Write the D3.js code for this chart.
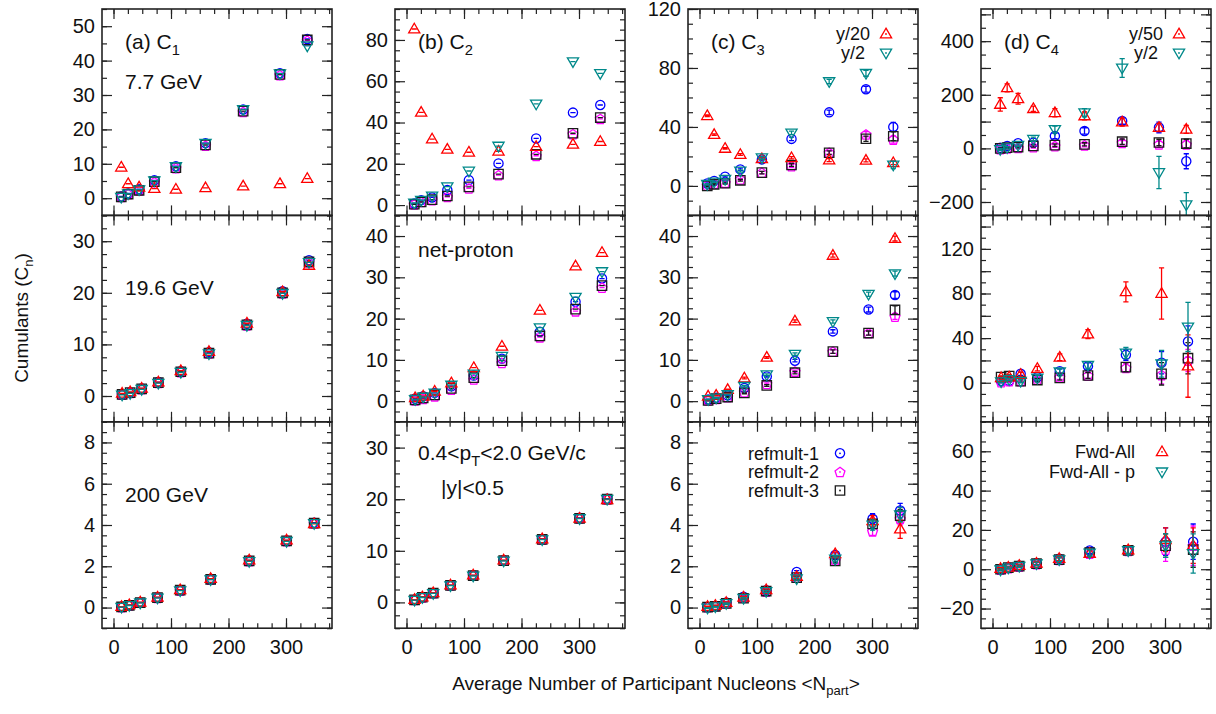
<!DOCTYPE html>
<html>
<head>
<meta charset="utf-8">
<script src="https://cdn.jsdelivr.net/npm/d3@7"></script>
<style>
  body { margin: 0; background: #fff; }
  svg { display: block; font-family: "Liberation Sans", Arial, Helvetica, sans-serif; }
</style>
</head>
<body>
<svg id="chart" width="1216" height="714"></svg>
<script>
'use strict';

// ---- data ----
const npart77 = [13.5, 25.5, 44.5, 71, 108.5, 160, 225.5, 289.5, 337];
const npart196 = [15, 29, 49, 78, 117, 166, 232, 294, 340];
const npart200 = [14, 27.5, 46.5, 76.5, 116, 169, 236, 301, 349];

const seriesNames = ['refmult-1', 'refmult-2', 'refmult-3', 'Fwd-All', 'Fwd-All - p'];

// each panel: one row per series, in seriesNames order
const c1_77 = [
  [0.5, 1.4, 2.6, 5.2, 9.3, 16.0, 25.8, 36.3, 46.3],
  [0.4, 1.2, 2.3, 4.7, 8.8, 15.3, 25.1, 35.8, 45.8],
  [0.4, 1.2, 2.3, 4.8, 8.9, 15.5, 25.3, 36.0, 46.0],
  [9.0, 4.2, 3.2, 2.8, 2.6, 3.0, 3.5, 4.2, 5.7],
  [0.3, 1.3, 2.5, 5.1, 9.2, 16.0, 25.8, 36.2, 44.3],
];
const c2_77 = [
  [0.8, 2.4, 3.7, 7.3, 12.1, 20.2, 32.3, 44.8, 48.5],
  [0.4, 1.6, 2.4, 4.0, 8.1, 14.5, 23.9, 34.4, 41.8],
  [0.4, 1.5, 2.6, 4.4, 8.8, 15.0, 24.6, 34.8, 42.4],
  [85.3, 44.9, 32.0, 27.0, 25.6, 26.0, 28.3, 29.4, 30.8],
  [1.0, 2.4, 4.4, 8.9, 16.5, 28.6, 49.0, 69.5, 63.8],
];
const c3_77 = [
  [1.6, 3.4, 6.3, 11.2, 18.0, 31.9, 49.9, 65.6, 40.0],
  [0.4, 1.6, 2.2, 4.5, 9.0, 13.5, 22.5, 35.0, 31.5],
  [0.0, 1.1, 1.8, 3.8, 9.0, 14.2, 22.5, 32.0, 33.7],
  [47.6, 34.8, 25.4, 21.3, 18.4, 19.1, 17.5, 17.3, 15.7],
  [1.1, 2.7, 4.5, 10.1, 19.1, 36.0, 70.8, 76.4, 14.2],
];
const c3_77err = [
  [0.5, 0.5, 0.6, 0.8, 1.0, 1.2, 1.5, 2.0, 3.0],
  [0.4, 0.4, 0.5, 0.6, 0.8, 1.0, 1.2, 1.8, 2.5],
  [0.4, 0.4, 0.5, 0.6, 0.8, 1.0, 1.2, 1.8, 3.0],
  [0.5, 0.5, 0.5, 0.6, 0.6, 0.8, 1.0, 1.0, 1.2],
  [0.5, 0.5, 0.6, 0.8, 1.0, 1.2, 1.5, 2.0, 2.5],
];
const c4_77 = [
  [2, 9, 19, 21, 46, 65, 102, 78, -48],
  [-2, 0, 2.5, 5, 9, 12, 21, 15, 15],
  [0, 2.5, 5, 9, 12, 15, 25, 22, 18],
  [164, 226, 185, 148, 133, 121, 98, 78, 71],
  [-4, 2.5, 12, 34, 71, 133, 300, -90, -210],
];
const c4_77err = [
  [3, 4, 5, 6, 10, 12, 12, 20, 28],
  [2, 3, 3, 4, 5, 6, 8, 12, 15],
  [2, 3, 3, 4, 5, 6, 10, 12, 16],
  [25, 15, 20, 10, 15, 15, 15, 15, 15],
  [3, 4, 5, 8, 12, 15, 35, 60, 45],
];

const c1_196 = [
  [0.35, 0.7, 1.45, 2.7, 4.8, 8.5, 14.0, 20.3, 26.3],
  [0.3, 0.6, 1.35, 2.55, 4.65, 8.3, 13.7, 19.9, 25.9],
  [0.3, 0.65, 1.4, 2.6, 4.7, 8.3, 13.8, 20.0, 26.0],
  [0.5, 0.8, 1.5, 2.7, 4.9, 8.6, 14.1, 20.2, 25.3],
  [0.2, 0.5, 1.3, 2.5, 4.6, 8.2, 13.7, 19.9, 25.9],
];
const c2_196 = [
  [0.6, 1.2, 2.0, 3.6, 6.2, 10.3, 16.8, 24.1, 29.7],
  [0.2, 0.6, 1.2, 2.8, 5.3, 9.3, 15.5, 21.8, 27.5],
  [0.3, 0.8, 1.5, 3.1, 5.7, 9.8, 15.8, 22.3, 28.0],
  [0.8, 1.2, 2.4, 4.4, 8.1, 13.3, 22.0, 32.7, 36.0],
  [0.4, 1.0, 2.0, 3.9, 6.6, 10.9, 17.8, 25.2, 31.4],
];
const c3_196 = [
  [0.4, 0.8, 1.4, 3.2, 6.0, 9.8, 16.9, 22.2, 25.7],
  [0.2, 0.6, 1.0, 2.2, 4.2, 7.2, 12.0, 16.5, 20.5],
  [0.2, 0.6, 1.0, 2.0, 3.8, 6.9, 12.0, 16.5, 22.1],
  [1.2, 1.4, 2.8, 5.6, 10.6, 19.4, 35.3, null, 39.4],
  [0.4, 0.8, 1.6, 3.6, 6.4, 11.4, 19.3, 25.9, 30.9],
];
const c3_196err = [
  [0.1, 0.1, 0.1, 0.2, 0.2, 0.3, 0.4, 0.6, 0.8],
  [0.1, 0.1, 0.1, 0.2, 0.2, 0.3, 0.4, 0.5, 0.7],
  [0.1, 0.1, 0.1, 0.2, 0.2, 0.3, 0.4, 0.5, 1.0],
  [0.1, 0.1, 0.1, 0.2, 0.2, 0.3, 0.4, 0.5, 0.6],
  [0.1, 0.1, 0.1, 0.2, 0.2, 0.3, 0.4, 0.5, 0.6],
];
const c4_196 = [
  [1.5, 1.5, 8, 5, 10.4, 14.8, 25, 18, 37],
  [0.6, 1.5, 1.5, 3, 5, 6.5, 13.3, 7, 20],
  [5, 6, 1.5, 2.4, 4.4, 6.5, 14, 8, 22],
  [4.4, 5, 7.4, 12.7, 22.8, 43.6, 81.5, 80, 15],
  [1, 3, 1.5, 4.4, 9.8, 15.7, 26.7, 17, 50],
];
const c4_196err = [
  [1, 1, 1.5, 1.5, 2, 3, 5, 10, 14],
  [1, 1, 1, 1.5, 2, 2.5, 4, 8, 10],
  [1, 1, 1, 1.5, 2, 2.5, 4, 10, 14],
  [1.5, 1.5, 2, 2, 3, 4, 9, 23, 28],
  [1, 1, 1.5, 2, 2.5, 3, 5, 12, 22],
];

const c1_200 = [
  [0.04, 0.12, 0.25, 0.49, 0.85, 1.39, 2.28, 3.25, 4.11],
  [0.03, 0.11, 0.24, 0.47, 0.83, 1.36, 2.25, 3.22, 4.08],
  [0.03, 0.11, 0.24, 0.48, 0.84, 1.37, 2.26, 3.23, 4.09],
  [0.05, 0.13, 0.26, 0.5, 0.86, 1.4, 2.3, 3.27, 4.06],
  [0.02, 0.1, 0.23, 0.47, 0.82, 1.35, 2.24, 3.21, 4.08],
];
const c2_200 = [
  [0.5, 1.0, 1.8, 3.3, 5.25, 8.15, 12.3, 16.4, 20.1],
  [0.5, 1.0, 1.8, 3.3, 5.2, 8.1, 12.2, 16.3, 20.0],
  [0.5, 1.0, 1.8, 3.3, 5.2, 8.1, 12.2, 16.3, 20.0],
  [0.55, 1.05, 1.85, 3.35, 5.3, 8.2, 12.3, 16.3, 19.9],
  [0.45, 0.95, 1.75, 3.25, 5.15, 8.05, 12.15, 16.25, 20.0],
];
const c3_200 = [
  [0.03, 0.08, 0.25, 0.52, 0.84, 1.72, 2.55, 4.3, 4.7],
  [0.02, 0.07, 0.22, 0.48, 0.78, 1.45, 2.3, 3.7, 4.3],
  [0.02, 0.06, 0.2, 0.45, 0.8, 1.45, 2.26, 4.05, 4.45],
  [0.05, 0.1, 0.24, 0.5, 0.86, 1.5, 2.6, 4.2, 3.8],
  [-0.02, 0.04, 0.2, 0.45, 0.78, 1.4, 2.35, 4.0, 4.5],
];
const c3_200err = [
  [0.02, 0.02, 0.03, 0.04, 0.05, 0.07, 0.1, 0.25, 0.35],
  [0.02, 0.02, 0.03, 0.04, 0.05, 0.07, 0.1, 0.2, 0.3],
  [0.02, 0.02, 0.03, 0.04, 0.05, 0.07, 0.1, 0.2, 0.3],
  [0.02, 0.02, 0.03, 0.04, 0.05, 0.07, 0.1, 0.25, 0.45],
  [0.02, 0.02, 0.03, 0.04, 0.05, 0.07, 0.1, 0.25, 0.35],
];
const c4_200 = [
  [0, 0.9, 1.8, 3.0, 5.3, 9.5, 9.7, 14, 14],
  [-0.2, 0.6, 1.4, 2.6, 4.8, 8.0, 9.4, 10, 12],
  [0, 0.8, 1.6, 2.8, 4.9, 8.4, 9.6, 12, 10],
  [0.3, 1.0, 1.9, 3.0, 5.4, 8.0, 9.8, 15, 12],
  [-0.3, 0.7, 1.5, 2.8, 4.9, 8.3, 9.5, 12, 8],
];
const c4_200err = [
  [0.5, 0.5, 0.6, 0.8, 1, 1.5, 2, 7, 9],
  [0.5, 0.5, 0.6, 0.8, 1, 1.5, 2, 6, 10],
  [0.5, 0.5, 0.6, 0.8, 1, 1.5, 2, 6, 9],
  [0.5, 0.5, 0.6, 0.8, 1, 1.5, 2, 6, 9],
  [0.5, 0.5, 0.6, 0.8, 1, 1.5, 2, 6, 10],
];

// ---- layout ----
const colX = [102, 395, 688, 981];
const colW = 230;
const rowY = [9, 215.4, 421.8];
const rowH = 206.4;
const xDomain = [-20, 380];
const xMajor = [0, 100, 200, 300];
const xMinorStep = 25;

const colors = ['#0000ff', '#ff00ff', '#1a1a1a', '#ff0000', '#00898a'];
const shapes = ['circle', 'pentagon', 'square', 'up', 'down'];
const drawOrder = [0, 1, 2, 3, 4];

const panels = [
  { row: 0, col: 0, np: npart77, vals: c1_77, err: null, yDom: [-5, 55], lab: 10, maj: 10, min: 5 },
  { row: 0, col: 1, np: npart77, vals: c2_77, err: null, yDom: [-5, 95], lab: 20, maj: 20, min: 5 },
  { row: 0, col: 2, np: npart77, vals: c3_77, err: c3_77err, yDom: [-20, 120], lab: 40, maj: 40, min: 10 },
  { row: 0, col: 3, np: npart77, vals: c4_77, err: c4_77err, yDom: [-250, 520], lab: 200, maj: 100, min: 50 },
  { row: 1, col: 0, np: npart196, vals: c1_196, err: null, yDom: [-5, 35], lab: 10, maj: 10, min: 2.5 },
  { row: 1, col: 1, np: npart196, vals: c2_196, err: null, yDom: [-5, 45], lab: 10, maj: 10, min: 2.5 },
  { row: 1, col: 2, np: npart196, vals: c3_196, err: c3_196err, yDom: [-5, 45], lab: 10, maj: 10, min: 2.5 },
  { row: 1, col: 3, np: npart196, vals: c4_196, err: c4_196err, yDom: [-35, 150], lab: 40, maj: 20, min: 10 },
  { row: 2, col: 0, np: npart200, vals: c1_200, err: null, yDom: [-1, 9], lab: 2, maj: 2, min: 0.5 },
  { row: 2, col: 1, np: npart200, vals: c2_200, err: null, yDom: [-5, 35], lab: 10, maj: 10, min: 2.5 },
  { row: 2, col: 2, np: npart200, vals: c3_200, err: c3_200err, yDom: [-1, 9], lab: 2, maj: 2, min: 0.5 },
  { row: 2, col: 3, np: npart200, vals: c4_200, err: c4_200err, yDom: [-30, 75], lab: 20, maj: 20, min: 5 },
];

const svg = d3.select('#chart');

const steps = (dom, step) => {
  const out = [];
  for (let k = Math.ceil(dom[0] / step - 1e-9); k <= Math.floor(dom[1] / step + 1e-9); k++) {
    out.push(+(k * step).toFixed(6));
  }
  return out;
};

const pentagon = (r) => {
  const pts = d3.range(5).map((k) => {
    const a = -Math.PI / 2 + (k * 2 * Math.PI) / 5;
    return [r * Math.cos(a), r * Math.sin(a) + 0.6];
  });
  return 'M' + pts.map((p) => p.join(',')).join('L') + 'Z';
};

const shapePath = (shape) => {
  switch (shape) {
    case 'circle':
      return d3.symbol(d3.symbolCircle, Math.PI * 4.6 * 4.6)();
    case 'square':
      return 'M-4.7,-4.7H4.7V4.7H-4.7Z';
    case 'up':
      return 'M0,-5.8L5.6,3.8L-5.6,3.8Z';
    case 'down':
      return 'M0,5.8L5.6,-3.8L-5.6,-3.8Z';
    default:
      return pentagon(5.2);
  }
};

const tickAxis = (g, axisFn, scale, values, size) => {
  g.call(axisFn(scale).tickValues(values).tickSize(-size).tickFormat(''));
  g.select('.domain').remove();
  g.selectAll('.tick line').attr('stroke', '#222').attr('stroke-width', 1.2);
};

const labelStyle = (g) => {
  g.selectAll('.tick text')
    .attr('fill', '#111')
    .attr('font-size', 20);
};

panels.forEach((p, pi) => {
  const x0 = colX[p.col];
  const y0 = rowY[p.row];
  const g = svg.append('g').attr('transform', `translate(${x0},${y0})`);

  const x = d3.scaleLinear().domain(xDomain).range([0, colW]);
  const y = d3.scaleLinear().domain(p.yDom).range([rowH, 0]);

  // ticks, all pointing inward
  const yLab = steps(p.yDom, p.lab);
  const yMaj = steps(p.yDom, p.maj);
  const yMin = steps(p.yDom, p.min);
  const xMin = steps(xDomain, xMinorStep);

  tickAxis(g.append('g'), d3.axisLeft, y, yMin, 5);
  tickAxis(g.append('g'), d3.axisLeft, y, yMaj, 10);
  tickAxis(g.append('g').attr('transform', `translate(${colW},0)`), d3.axisRight, y, yMin, 5);
  tickAxis(g.append('g').attr('transform', `translate(${colW},0)`), d3.axisRight, y, yMaj, 10);
  tickAxis(g.append('g').attr('transform', `translate(0,${rowH})`), d3.axisBottom, x, xMin, 5);
  tickAxis(g.append('g').attr('transform', `translate(0,${rowH})`), d3.axisBottom, x, xMajor, 10);
  tickAxis(g.append('g'), d3.axisTop, x, xMin, 5);
  tickAxis(g.append('g'), d3.axisTop, x, xMajor, 10);

  // y labels
  const yl = g.append('g')
    .call(d3.axisLeft(y).tickValues(yLab).tickSize(0).tickPadding(7).tickFormat(d3.format('d')));
  yl.select('.domain').remove();
  labelStyle(yl);

  if (p.row === 2) {
    const xl = g.append('g')
      .attr('transform', `translate(0,${rowH})`)
      .call(d3.axisBottom(x).tickValues(xMajor).tickSize(0).tickPadding(12).tickFormat(d3.format('d')));
    xl.select('.domain').remove();
    labelStyle(xl);
  }

  // points
  const clipId = 'clip' + pi;
  g.append('clipPath').attr('id', clipId)
    .append('rect').attr('width', colW).attr('height', rowH);
  const pg = g.append('g').attr('clip-path', `url(#${clipId})`);

  drawOrder.forEach((s) => {
    const pts = p.vals[s]
      .map((v, i) => ({ v: v, e: p.err ? p.err[s][i] : 0, n: p.np[i] }))
      .filter((d) => d.v !== null);
    const sg = pg.append('g')
      .attr('fill', 'none')
      .attr('stroke', colors[s])
      .attr('stroke-width', 1.3);
    const pt = sg.selectAll('g.pt').data(pts).join('g').attr('class', 'pt');
    pt.append('path')
      .attr('d', (d) => {
        const cx = x(d.n);
        const yl = y(d.v - d.e);
        const yh = y(d.v + d.e);
        return `M${cx},${yl}V${yh}M${cx - 2.6},${yl}H${cx + 2.6}M${cx - 2.6},${yh}H${cx + 2.6}`;
      });
    pt.append('path')
      .attr('transform', (d) => `translate(${x(d.n)},${y(d.v)})`)
      .attr('d', shapePath(shapes[s]));
  });

  // frame
  g.append('rect')
    .attr('width', colW).attr('height', rowH)
    .attr('fill', 'none').attr('stroke', '#222').attr('stroke-width', 1.6);
});

// ---- text inside panels ----
const addSubText = (xp, yp, main, sub, size, after) => {
  const t = svg.append('text')
    .attr('x', xp).attr('y', yp)
    .attr('font-size', size).attr('fill', '#111');
  t.append('tspan').text(main);
  t.append('tspan').attr('font-size', size * 0.7).attr('dy', size * 0.28).text(sub);
  if (after) t.append('tspan').attr('dy', -size * 0.28).text(after);
  return t;
};

const panelTitles = ['(a) C', '(b) C', '(c) C', '(d) C'];
panelTitles.forEach((s, c) => addSubText(colX[c] + 23, rowY[0] + 40, s, String(c + 1), 21));

const energies = ['7.7 GeV', '19.6 GeV', '200 GeV'];
energies.forEach((s, r) => {
  svg.append('text')
    .attr('x', colX[0] + 23).attr('y', rowY[r] + 80)
    .attr('font-size', 21).attr('fill', '#111').text(s);
});

svg.append('text')
  .attr('x', colX[1] + 23).attr('y', rowY[1] + 42)
  .attr('font-size', 21).attr('fill', '#111').text('net-proton');
addSubText(colX[1] + 23, rowY[2] + 38, '0.4<p', 'T', 21, '<2.0 GeV/c');
svg.append('text')
  .attr('x', colX[1] + 46).attr('y', rowY[2] + 73)
  .attr('font-size', 21).attr('fill', '#111').text('|y|<0.5');

// ---- keys ----
const keyMarker = (xp, yp, s) => {
  svg.append('path')
    .attr('transform', `translate(${xp},${yp})`)
    .attr('d', shapePath(shapes[s]))
    .attr('fill', 'none').attr('stroke', colors[s]).attr('stroke-width', 1.3);
  svg.append('circle')
    .attr('cx', xp).attr('cy', yp).attr('r', 0.9).attr('fill', colors[s]);
};

const keyText = (xp, yp, s, anchor) => {
  svg.append('text')
    .attr('x', xp).attr('y', yp).attr('dy', '0.35em')
    .attr('text-anchor', anchor)
    .attr('font-size', 18).attr('fill', '#111').text(s);
};

const scaleLabels = [['y/20', 'y/2'], ['y/50', 'y/2']];
scaleLabels.forEach((labs, k) => {
  const right = colX[2 + k] + colW;
  labs.forEach((s, j) => {
    keyText(right - 65, rowY[0] + 25 + j * 19, s, 'middle');
    keyMarker(right - 32, rowY[0] + 25 + j * 19, 3 + j);
  });
});

[0, 1, 2].forEach((s, j) => {
  keyText(colX[2] + 131, rowY[2] + 31.5 + j * 18.6, seriesNames[s], 'end');
  keyMarker(colX[2] + 152, rowY[2] + 31.5 + j * 18.6, s);
});
[3, 4].forEach((s, j) => {
  keyText(colX[3] + 154, rowY[2] + 30 + j * 20, seriesNames[s], 'end');
  keyMarker(colX[3] + 181, rowY[2] + 30 + j * 20, s);
});

// ---- axis titles ----
const yt = svg.append('text')
  .attr('transform', 'translate(28,318) rotate(-90)')
  .attr('text-anchor', 'middle')
  .attr('font-size', 19).attr('fill', '#111');
yt.append('tspan').text('Cumulants (C');
yt.append('tspan').attr('font-size', 13).attr('dy', 5).text('n');
yt.append('tspan').attr('dy', -5).text(')');

const xt = svg.append('text')
  .attr('x', 656).attr('y', 690)
  .attr('text-anchor', 'middle')
  .attr('font-size', 19).attr('fill', '#111');
xt.append('tspan').text('Average Number of Participant Nucleons <N');
xt.append('tspan').attr('font-size', 13).attr('dy', 5).text('part');
xt.append('tspan').attr('dy', -5).text('>');
</script>
</body>
</html>
